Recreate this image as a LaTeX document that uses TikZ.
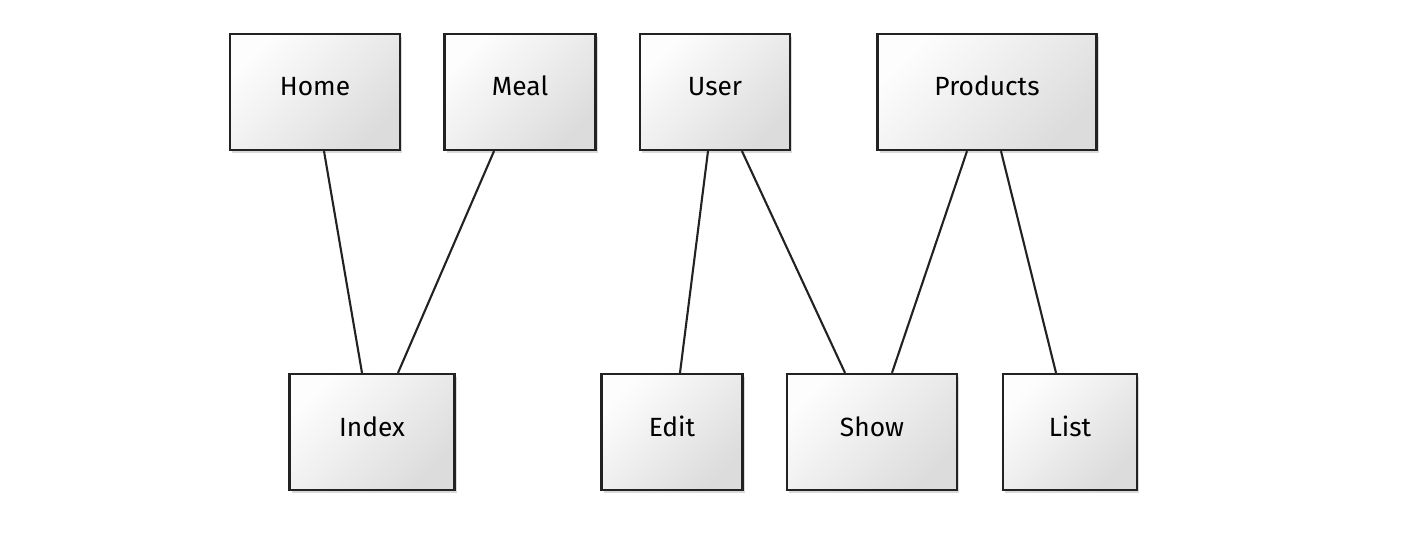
\documentclass[tikz,border=0pt]{standalone}
\usepackage{fontspec}
\setsansfont{Fira Sans}
\usetikzlibrary{positioning, shadows, calc}
\definecolor{cline}{HTML}{222222}
\definecolor{cfillA}{HTML}{FDFDFD}
\definecolor{cfillB}{HTML}{DCDCDC}
\tikzset{
  every picture/.style={font=\sffamily, line width=1.3pt},
  page/.style={draw=cline, shading=axis, left color=cfillA, right color=cfillB, shading angle=45,
    align=center, inner sep=0pt, minimum height=2.32cm, text height=0.4cm, text depth=0.24cm,
    font=\sffamily\fontsize{15}{18}\selectfont,
    drop shadow={shadow xshift=1.2pt, shadow yshift=-1.6pt, opacity=0.25, fill=black!60}},
  link/.style={draw=cline, line width=1.2pt},
}
\begin{document}
\begin{tikzpicture}[x=0.02cm, y=-0.02cm]
  \useasboundingbox (0,0) rectangle (1404,534);
  % top row
  \node[page, minimum width=3.4cm]  (home)     at (315,92)  {Home};
  \node[page, minimum width=3.02cm] (meal)     at (520,92)  {Meal};
  \node[page, minimum width=3.0cm]  (user)     at (715,92)  {User};
  \node[page, minimum width=4.38cm] (products) at (987,92)  {Products};
  % bottom row
  \node[page, minimum width=3.3cm]  (index)    at (372,432) {Index};
  \node[page, minimum width=2.82cm] (edit)     at (672,432) {Edit};
  \node[page, minimum width=3.4cm]  (show)     at (872,432) {Show};
  \node[page, minimum width=2.68cm] (list)     at (1070,432) {List};
  % links
  \draw[link] ([xshift=0.18cm]home.south)      -- ([xshift=-0.2cm]index.north);
  \draw[link] ([xshift=-0.52cm]meal.south)     -- ([xshift=0.52cm]index.north);
  \draw[link] ([xshift=-0.14cm]user.south)     -- ([xshift=0.16cm]edit.north);
  \draw[link] ([xshift=0.54cm]user.south)      -- ([xshift=-0.54cm]show.north);
  \draw[link] ([xshift=-0.4cm]products.south)  -- ([xshift=0.4cm]show.north);
  \draw[link] ([xshift=0.28cm]products.south)  -- ([xshift=-0.28cm]list.north);
\end{tikzpicture}
\end{document}
